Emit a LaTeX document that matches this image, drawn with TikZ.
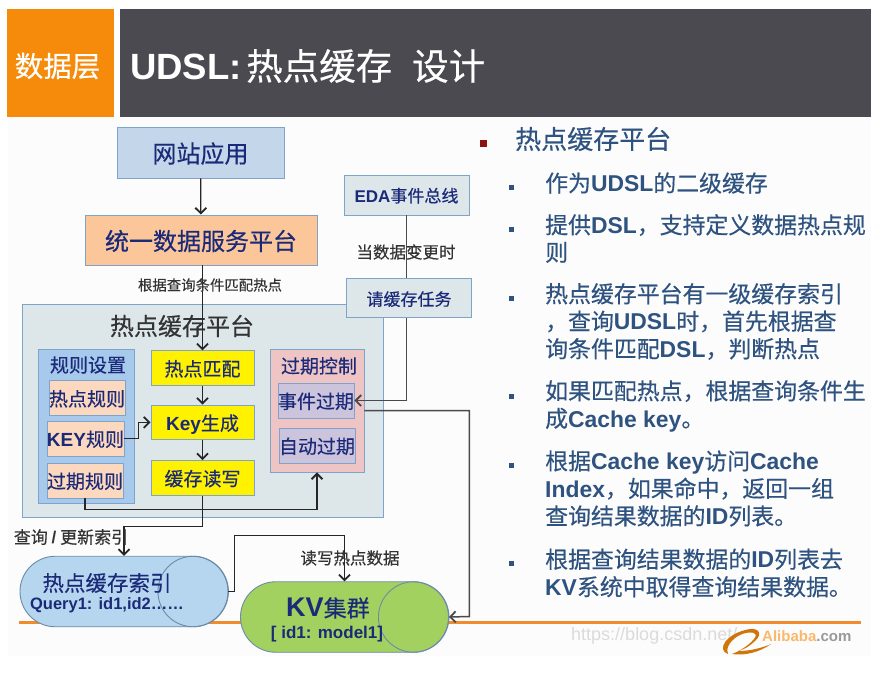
\documentclass[tikz,border=0pt]{standalone}
\usepackage{fontspec}
\setmainfont[FakeBold=0.35]{Noto Sans CJK SC}
\newfontfamily\latfont{Liberation Sans}
\usetikzlibrary{arrows.meta,positioning,shapes.misc}

\newcommand{\lat}[1]{{\latfont\bfseries #1}}
\newcommand{\pxfont}[1]{\fontsize{#1}{#1}\selectfont}

\definecolor{navytext}{HTML}{1B2A78}
\definecolor{listblue}{HTML}{2F5380}
\definecolor{edgeblue}{HTML}{7FA3C9}
\definecolor{linegray}{HTML}{4A4A4A}
\definecolor{barorange}{HTML}{F58A0B}
\definecolor{ruleorange}{HTML}{F08C2E}
\definecolor{bardark}{HTML}{4A4A50}
\definecolor{webfill}{HTML}{C3D6EA}
\definecolor{peachfill}{HTML}{FBC79A}
\definecolor{platfill}{HTML}{DDE6E9}
\definecolor{rulefill}{HTML}{A6C9EC}
\definecolor{rulechild}{HTML}{FBD8BE}
\definecolor{expirefill}{HTML}{EEC5C4}
\definecolor{expirechild}{HTML}{CCC4DD}
\definecolor{indexfill}{HTML}{B5D6EE}
\definecolor{kvfill}{HTML}{A2D160}
\definecolor{darkred}{HTML}{8A1414}

\tikzset{
  boxbase/.style={draw=edgeblue, line width=.9pt, inner sep=0pt, text=navytext, align=center, text depth=0pt},
  yellowbox/.style={boxbase, fill=yellow, minimum width=103, minimum height=34.5, font=\pxfont{19}},
  childbox/.style={boxbase, fill=#1, minimum width=76, minimum height=35, font=\pxfont{19}},
  caption/.style={inner sep=0pt, text=black!80, align=center},
  flow/.style={-{Straight Barb[length=5.5pt,width=11pt,line width=1.8pt]}, line width=1.2pt, draw=black!85},
  greyflow/.style={flow, line width=1.5pt, draw=linegray},
  dbcyl/.style={rounded rectangle, draw=edgeblue!85!black, line width=.9pt, fill=#1,
    minimum width=208, minimum height=70.5, inner sep=0pt},
  dbend/.style={draw=edgeblue!85!black, line width=.9pt},
  listhead/.style={anchor=west, inner sep=0pt, text=listblue, font=\pxfont{26}},
  listitem/.style={anchor=west, inner sep=0pt, text=listblue, align=left, font=\fontsize{22.9}{27.5}\selectfont},
  dotmark/.style={fill=listblue, inner sep=0pt, minimum size=5}
}

\begin{document}
\begin{tikzpicture}[x=1pt,y=-1pt]
  \useasboundingbox (0,0) rectangle (881,678);
  \fill[black!1] (8,117) rectangle (871,656);

  % header
  \fill[barorange] (7,9) rectangle (114,117);
  \fill[bardark] (120,9) rectangle (871,117);
  \node[inner sep=0pt, text=white, font=\pxfont{28.5}] (layer) at (57.5,66) {数据层};
  \node[anchor=west, inner sep=0pt, text=white, font=\pxfont{36.5}] (title) at (130,66) {\lat{UDSL:}\hspace{4.5pt}热点缓存\hspace{20pt}设计};

  % orange rule and logo
  \fill[ruleorange] (19,620.5) rectangle (861,624);
  \node[anchor=west, inner sep=0pt, text=black!14, font=\latfont\pxfont{18}] (mark) at (571,636) {https://blog.csdn.net/};
  \fill[barorange!85!black] (728,654) .. controls (716,650) and (726,633) .. (750,629) .. controls (760,628) and (762,635) .. (755,641) .. controls (750,646) and (745,649) .. (738,651) .. controls (750,651) and (762,648) .. (771,644) .. controls (760,652) and (745,656) .. (732,654) .. controls (745,649) and (755,640) .. (756,635) .. controls (755,631) and (745,632) .. (738,636) .. controls (728,642) and (726,650) .. (728,654);
  \node[anchor=west, inner sep=0pt, text=barorange!60!white, font=\latfont\bfseries\pxfont{15}] (brand) at (762,636) {Alibaba\textcolor{black!40}{.com}};

  % left part
  \node[boxbase, fill=webfill, minimum width=167, minimum height=51, font=\pxfont{24}] (web) at (200.5,152.5) {网站应用};
  \node[boxbase, fill=peachfill, minimum width=232, minimum height=50, font=\pxfont{24}] (unified) at (201,240) {统一数据服务平台};
  \node[boxbase, fill=platfill, minimum width=361, minimum height=213] (platform) at (202.5,410.5) {};
  \node[inner sep=0pt, text=black!80, font=\pxfont{24}] (plattitle) at (182,326) {热点缓存平台};

  \node[boxbase, fill=rulefill, minimum width=96, minimum height=154] (rules) at (86,426) {};
  \node[inner sep=0pt, text=navytext, font=\pxfont{19}] (rulestitle) at (88,365) {规则设置};
  \node[childbox=rulechild] (hotrule) at (87,398) {热点规则};
  \node[childbox=rulechild] (keyrule) at (85.5,438.5) {\lat{KEY}规则};
  \node[childbox=rulechild] (exprule) at (85,480.5) {过期规则};

  \node[yellowbox] (match) at (202.5,368) {热点匹配};
  \node[yellowbox, below=19pt of match] (keygen) {\lat{Key}生成};
  \node[yellowbox, below=20pt of keygen] (rw) {缓存读写};

  \node[boxbase, fill=expirefill, minimum width=94, minimum height=123] (expire) at (317,410.5) {};
  \node[inner sep=0pt, text=navytext, font=\pxfont{19}] (expiretitle) at (319,366) {过期控制};
  \node[childbox=expirechild] (event) at (316,400.5) {事件过期};
  \node[childbox=expirechild] (auto) at (317,445.5) {自动过期};

  \node[boxbase, fill=platfill, minimum width=125, minimum height=40, font=\pxfont{17}] (eda) at (406.5,195) {\lat{EDA}事件总线};
  \node[boxbase, fill=platfill, minimum width=125, minimum height=39, font=\pxfont{17}, below=63pt of eda, xshift=2.5pt] (task) {请缓存任务};

  \node[dbcyl=indexfill] (index) at (124,591.5) {};
  \draw[dbend] ([xshift=-35.25pt]index.east) circle[radius=35.25];
  \node[inner sep=0pt, text=navytext, font=\pxfont{21.5}] (indextitle) at (107,583) {热点缓存索引};
  \node[inner sep=0pt, text=navytext, font=\latfont\bfseries\pxfont{16.5}] (indexsub) at (107,605) {Query1: id1,id2……};
  \node[dbcyl=kvfill] (kv) at (344.5,617) {};
  \draw[dbend] ([xshift=-35.25pt]kv.east) circle[radius=35.25];
  \node[inner sep=0pt, text=navytext, font=\pxfont{23}] (kvtitle) at (328,608) {\lat{\pxfont{27}KV}集群};
  \node[inner sep=0pt, text=navytext, font=\latfont\bfseries\pxfont{17}] (kvsub) at (327,634) {[ id1: model1]};

  % connectors
  \draw[flow] (web) -- (unified);
  \draw[flow] (unified.south -| match.north) -- (match.north);
  \draw[flow] (match) -- (keygen);
  \draw[flow] (keygen) -- (rw);
  \draw[flow] (keyrule.east) -- ++(14,0) |- (keygen.west);
  \draw[flow] (exprule.south) -- ++(0,11) -| (expire.south);
  \draw[flow] (rw.south) -- ++(0,31) -| (index.north);
  \draw[flow] (index.east) -- ++(6,0) |- ++(60,-56) -| (kv.north);
  \draw[line width=1.5pt, draw=linegray] (eda.south) -- (eda.south |- task.north);
  \draw[greyflow] (eda.south |- task.south) |- (event.east);
  \draw[greyflow] (expire.east) -| ++(105,206) -- (kv.east);

  % captions
  \node[caption, font=\pxfont{14.4}] (matchcap) at (210,285) {根据查询条件匹配热点};
  \node[caption, font=\pxfont{16.5}] (changecap) at (406,252) {当数据变更时};
  \node[caption, font=\pxfont{17}] (updatecap) at (71,537) {查询 \lat{/} 更新索引};
  \node[caption, font=\pxfont{16.5}] (rwcap) at (350,558) {读写热点数据};

  % right list
  \node[fill=darkred, inner sep=0pt, minimum size=7] (headdot) at (483.5,143) {};
  \node[listhead] (head) at (515,139) {热点缓存平台};
  \node[dotmark] (dot1) at (511.5,187) {};
  \node[listitem] (item1) at (545,183) {作为\lat{UDSL}的二级缓存};
  \node[dotmark] (dot2) at (511.5,229) {};
  \node[listitem] (item2) at (545,238.5) {提供\lat{DSL}，支持定义数据热点规\\则};
  \node[dotmark] (dot3) at (511.5,298) {};
  \node[listitem] (item3) at (545,321.5) {热点缓存平台有一级缓存索引\\，查询\lat{UDSL}时，首先根据查\\询条件匹配\lat{DSL}，判断热点};
  \node[dotmark] (dot4) at (511.5,396) {};
  \node[listitem] (item4) at (545,406) {如果匹配热点，根据查询条件生\\成\lat{Cache key}。};
  \node[dotmark] (dot5) at (511.5,465) {};
  \node[listitem] (item5) at (545,488.5) {根据\lat{Cache key}访问\lat{Cache}\\\lat{Index}，如果命中，返回一组\\查询结果数据的\lat{ID}列表。};
  \node[dotmark] (dot6) at (511.5,563) {};
  \node[listitem] (item6) at (545,573) {根据查询结果数据的\lat{ID}列表去\\\lat{KV}系统中取得查询结果数据。};
\end{tikzpicture}
\end{document}
